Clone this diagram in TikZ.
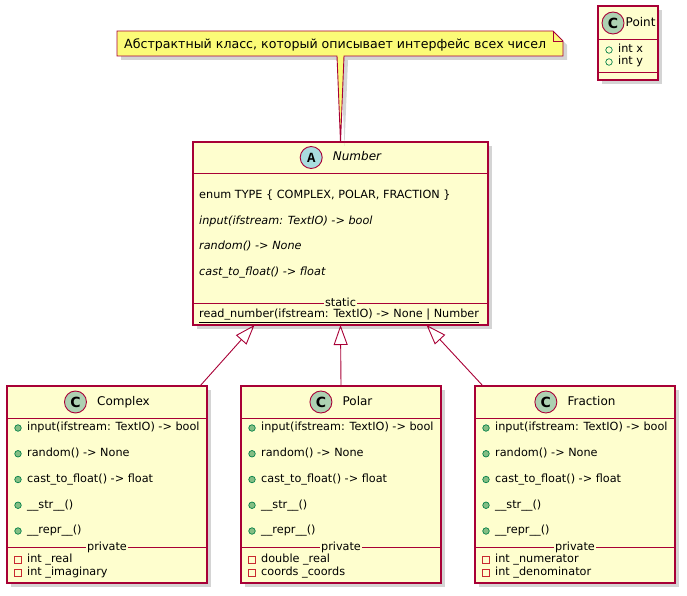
\documentclass[tikz,border=0pt]{standalone}
\usepackage{fontspec}
\setmainfont{DejaVu Sans}
\newfontfamily\badgemono{Liberation Mono}
\usetikzlibrary{arrows.meta,shadows}

\definecolor{umlborder}{HTML}{A80036}
\definecolor{umlfill}{HTML}{FEFECE}
\definecolor{notefill}{HTML}{FBFB77}
\definecolor{classicon}{HTML}{ADD1B2}
\definecolor{abstracticon}{HTML}{A9DCDF}
\definecolor{pubfill}{HTML}{84BE84}
\definecolor{publine}{HTML}{038048}
\definecolor{privline}{HTML}{C82930}

\tikzset{
  boxshadow/.style={drop shadow={shadow xshift=4pt, shadow yshift=-4pt, opacity=0.28, fill=black!60}},
  classbox/.style={boxshadow, draw=umlborder, fill=umlfill, line width=1.1pt,
                   inner sep=0pt, outer sep=0pt, anchor=north west},
  sepline/.style={draw=umlborder, line width=0.9pt},
  member/.style={anchor=west, inner sep=0pt, font=\fontsize{11.25}{13}\selectfont,
                 text height=8pt, text depth=2.5pt},
  ctitle/.style={inner sep=0pt, font=\fontsize{12}{14}\selectfont,
                 text height=8.7pt, text depth=2.6pt},
  badge/.style={circle, draw=umlborder, line width=0.9pt, minimum size=22pt, inner sep=0pt,
                font=\fontsize{14}{16}\selectfont\bfseries},
  pubmethod/.style={circle, draw=publine, fill=pubfill, minimum size=6.5pt, inner sep=0pt, line width=0.7pt},
  pubfield/.style={circle, draw=publine, minimum size=6.5pt, inner sep=0pt, line width=0.7pt},
  privfield/.style={rectangle, draw=privline, minimum size=6.5pt, inner sep=0pt, line width=0.7pt},
  seplabel/.style={fill=umlfill, inner xsep=1pt, inner ysep=0pt, font=\fontsize{11.25}{13}\selectfont,
                   text height=8pt, text depth=0.5pt},
  inherit/.style={draw=umlborder, line width=0.9pt, -{Triangle[open, length=20pt, width=14pt]}}
}

\begin{document}
\begin{tikzpicture}[x=1pt, y=-1pt]
\useasboundingbox (0,0) rectangle (687,596);

% ---------- abstract class Number ----------
\node[classbox, minimum width=295pt, minimum height=183pt] (number) at (193,142) {};
\node[ctitle, font=\fontsize{12}{14}\selectfont\itshape] (number-title)
  at ([xshift=16.5pt, yshift=-15.5pt]number.north) {Number};
\node[badge, fill=abstracticon] (number-badge) at ([xshift=-21.5pt]number-title.west)
  {\badgemono\bfseries A};
\draw[sepline] (193,173) -- (488,173);
\node[member] (number-enum) at (199,196) {enum TYPE \{ COMPLEX, POLAR, FRACTION \}};
\node[member] (number-m1) at (199,222) {\itshape input(ifstream: TextIO) -> bool};
\node[member] (number-m2) at (199,247) {\itshape random() -> None};
\node[member] (number-m3) at (199,273) {\itshape cast\_to\_float() -> float};
\draw[sepline] (193,303) -- (488,303);
\node[seplabel] (number-static) at (340.5,303) {static};
\node[member] (number-read) at (199,315)
  {\underline{read\_number(ifstream: TextIO) -> None | Number}};

% ---------- class Point ----------
\node[classbox, minimum width=60pt, minimum height=74pt] (point) at (598,6) {};
\node[badge, fill=classicon] (point-badge) at (613,23) {C};
\node[ctitle, anchor=west] (point-title) at (625.5,23) {Point};
\draw[sepline] (598,39) -- (658,39);
\node[pubfield] (point-i1) at (609,50) {};
\node[member] (point-f1) at (618,50) {int x};
\node[pubfield] (point-i2) at (609,62) {};
\node[member] (point-f2) at (618,62) {int y};
\draw[sepline] (598,72) -- (658,72);

% ---------- concrete subclasses ----------
\foreach \nm/\lx/\ttl/\fa/\fb/\tip/\foot in {
    complex/7/Complex/{int \_real}/{int \_imaginary}/-86/93,
    polar/241/Polar/{double \_real}/{coords \_coords}/0/0,
    fraction/475/Fraction/{int \_numerator}/{int \_denominator}/86/-92}
{
  \node[classbox, minimum width=200pt, minimum height=197pt] (\nm) at (\lx,386) {};
  \node[ctitle] (\nm-title) at ([xshift=16.5pt, yshift=-16pt]\nm.north) {\ttl};
  \node[badge, fill=classicon] (\nm-badge) at ([xshift=-21.5pt]\nm-title.west) {C};
  \draw[sepline] (\lx,418) -- ++(200,0);
  \foreach \txt [count=\i] in {{input(ifstream: TextIO) -> bool},
                               {random() -> None},
                               {cast\_to\_float() -> float},
                               {\_\_str\_\_()},
                               {\_\_repr\_\_()}}
  {
    \node[pubmethod] (\nm-icon\i) at (\lx+11, 428+25.75*\i-25.75) {};
    \node[member] (\nm-method\i) at (\lx+20, 428+25.75*\i-25.75) {\txt};
  }
  \draw[sepline] (\lx,547) -- ++(200,0);
  \node[seplabel] (\nm-private) at (\lx+100,547) {private};
  \node[privfield] (\nm-ficon1) at (\lx+11,560) {};
  \node[member] (\nm-field1) at (\lx+20,560) {\fa};
  \node[privfield] (\nm-ficon2) at (\lx+11,573) {};
  \node[member] (\nm-field2) at (\lx+20,573) {\fb};
  \draw[inherit] ([xshift=\foot pt]\nm.north) -- ([xshift=\tip pt]number.south);
}

% ---------- note attached to Number ----------
\node[minimum width=446pt, minimum height=25pt, inner sep=0pt, outer sep=0pt,
      anchor=north west] (note) at (117,31) {};
\path (number.north |- note.south) coordinate (tailbase);
\filldraw[boxshadow, fill=notefill, draw=umlborder, line width=0.9pt, line join=miter]
  (note.north west) -- ([xshift=-10pt]note.north east) -- ([yshift=-10pt]note.north east)
  -- (note.south east) -- ([xshift=3.5pt]tailbase) -- (number.north)
  -- ([xshift=-3.5pt]tailbase) -- (note.south west) -- cycle;
\draw[draw=umlborder, line width=0.9pt] ([xshift=-10pt]note.north east) -- ++(0,10) -- ++(10,0);
\node[anchor=west, inner sep=0pt, font=\fontsize{12.6}{15}\selectfont,
      text height=9.2pt, text depth=3pt] (note-text) at ([xshift=7pt, yshift=-2pt]note.west)
  {Абстрактный класс, который описывает интерфейс всех чисел};

\end{tikzpicture}
\end{document}
